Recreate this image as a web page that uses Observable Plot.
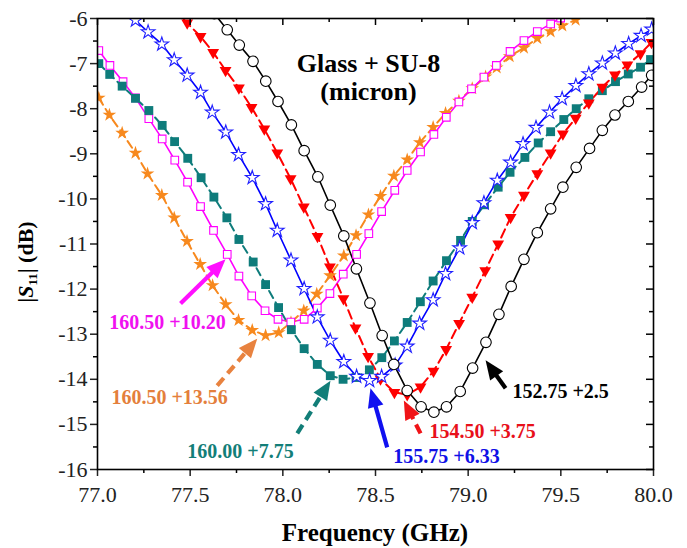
<!DOCTYPE html>
<html><head><meta charset="utf-8">
<script src="https://cdn.jsdelivr.net/npm/d3@7"></script>
<script src="https://cdn.jsdelivr.net/npm/@observablehq/plot@0.6"></script>
<style>body{margin:0;background:#fff}#chart{width:687px;height:548px}</style>
</head><body><div id="chart"></div>
<script>
// ---- data (frequency in GHz, |S11| in dB) ----
const blackF = [77.630,77.700,77.765,77.839,77.908,77.974,78.046,78.115,78.189,78.256,78.329,78.397,78.470,78.536,78.599,78.671,78.746,78.815,78.883,78.957,79.024,79.096,79.166,79.232,79.301,79.373,79.445,79.511,79.583,79.655,79.724,79.792,79.864,79.936,79.990];
const blackS = [-5.89,-6.25,-6.59,-6.95,-7.39,-7.84,-8.36,-8.93,-9.51,-10.14,-10.82,-11.55,-12.31,-13.03,-13.67,-14.25,-14.61,-14.73,-14.61,-14.27,-13.75,-13.18,-12.56,-11.94,-11.34,-10.75,-10.22,-9.74,-9.30,-8.88,-8.48,-8.14,-7.84,-7.52,-7.26];
const redF = [77.412,77.484,77.556,77.624,77.691,77.763,77.831,77.900,77.970,78.042,78.113,78.187,78.254,78.327,78.392,78.460,78.527,78.602,78.671,78.743,78.813,78.881,78.951,79.022,79.092,79.162,79.229,79.301,79.373,79.445,79.511,79.580,79.651,79.724,79.792,79.859,79.930,79.989];
const redS = [-5.81,-6.10,-6.40,-6.75,-7.15,-7.54,-7.97,-8.45,-8.98,-9.55,-10.18,-10.83,-11.51,-12.21,-12.86,-13.49,-13.99,-14.29,-14.34,-14.17,-13.82,-13.34,-12.76,-12.18,-11.59,-11.00,-10.41,-9.92,-9.44,-8.98,-8.56,-8.21,-7.87,-7.52,-7.25,-7.03,-6.78,-6.53];
const blueF = [77.135,77.205,77.273,77.347,77.414,77.484,77.556,77.619,77.692,77.761,77.835,77.907,77.970,78.044,78.115,78.186,78.256,78.329,78.398,78.468,78.533,78.606,78.671,78.738,78.811,78.878,78.954,79.022,79.085,79.157,79.229,79.296,79.366,79.439,79.507,79.581,79.651,79.724,79.794,79.866,79.933,79.990];
const blueS = [-5.77,-6.04,-6.30,-6.57,-6.92,-7.26,-7.64,-8.08,-8.52,-9.02,-9.53,-10.11,-10.70,-11.36,-11.99,-12.62,-13.14,-13.61,-13.94,-14.03,-13.94,-13.69,-13.27,-12.76,-12.24,-11.66,-11.09,-10.53,-10.09,-9.59,-9.19,-8.78,-8.42,-8.08,-7.78,-7.49,-7.23,-6.99,-6.77,-6.56,-6.38,-6.24];
const tealF = [77.007,77.066,77.133,77.205,77.277,77.349,77.416,77.487,77.559,77.628,77.698,77.763,77.840,77.907,77.977,78.046,78.115,78.186,78.256,78.325,78.395,78.467,78.534,78.602,78.671,78.742,78.811,78.883,78.959,79.022,79.088,79.162,79.226,79.306,79.378,79.445,79.516,79.583,79.651,79.724,79.795,79.864,79.930,79.984];
const tealS = [-7.00,-7.24,-7.50,-7.77,-8.04,-8.37,-8.73,-9.10,-9.53,-9.96,-10.42,-10.90,-11.40,-11.90,-12.41,-12.90,-13.32,-13.67,-13.92,-14.00,-13.96,-13.79,-13.52,-13.15,-12.74,-12.28,-11.82,-11.37,-10.92,-10.50,-10.13,-9.74,-9.41,-9.08,-8.76,-8.51,-8.24,-8.00,-7.78,-7.60,-7.40,-7.23,-7.08,-6.91];
const magF = [77.007,77.067,77.138,77.205,77.277,77.349,77.417,77.486,77.556,77.626,77.700,77.763,77.832,77.904,77.974,78.043,78.115,78.186,78.254,78.326,78.398,78.464,78.533,78.604,78.671,78.743,78.815,78.882,78.950,79.018,79.085,79.152,79.226,79.301,79.373,79.445,79.499];
const magS = [-6.71,-7.04,-7.40,-7.76,-8.22,-8.67,-9.14,-9.63,-10.17,-10.70,-11.23,-11.71,-12.15,-12.48,-12.67,-12.73,-12.67,-12.42,-12.10,-11.67,-11.23,-10.77,-10.28,-9.81,-9.37,-8.96,-8.57,-8.19,-7.85,-7.56,-7.30,-7.04,-6.73,-6.49,-6.29,-6.12,-5.99];
const orgF = [77.007,77.064,77.133,77.205,77.270,77.347,77.414,77.483,77.554,77.621,77.692,77.761,77.835,77.907,77.978,78.044,78.113,78.183,78.255,78.329,78.395,78.462,78.527,78.599,78.671,78.739,78.811,78.878,78.950,79.022,79.094,79.154,79.224,79.301,79.373,79.445,79.508,79.580];
const orgS = [-7.76,-8.14,-8.54,-8.98,-9.44,-9.92,-10.42,-10.94,-11.45,-11.92,-12.34,-12.69,-12.91,-13.03,-12.96,-12.74,-12.48,-12.11,-11.70,-11.26,-10.81,-10.35,-9.94,-9.49,-9.13,-8.75,-8.41,-8.10,-7.83,-7.55,-7.29,-7.09,-6.84,-6.65,-6.44,-6.29,-6.16,-6.03];

// annotation labels
const labelText = ["152.75 +2.5","154.50 +3.75","155.75 +6.33","160.00 +7.75","160.50 +10.20","160.50 +13.56"];
const labelF = [79.499,79.078,78.883,77.772,77.378,77.389];
const labelS = [-14.27,-15.16,-15.71,-15.60,-12.74,-14.40];
// arrows: tail -> tip
const arrowTailF = [79.202,78.743,78.563,78.078,77.448,77.646];
const arrowTailS = [-14.20,-15.20,-15.51,-15.20,-12.32,-14.14];
const arrowTipF = [79.094,78.653,78.473,78.257,77.691,77.862];
const arrowTipS = [-13.58,-14.47,-14.20,-14.03,-11.34,-13.10];

const xMajor = [77.0,77.5,78.0,78.5,79.0,79.5,80.0];
const xMinor = [77.25,77.75,78.25,78.75,79.25,79.75];
const yMajor = [-16,-15,-14,-13,-12,-11,-10,-9,-8,-7,-6];
const yMinor = [-15.5,-14.5,-13.5,-12.5,-11.5,-10.5,-9.5,-8.5,-7.5,-6.5];

// ---- layout ----
const W = 687, H = 548, mL = 97, mR = 34, mT = 18, mB = 79;
const plotW = W - mL - mR, plotH = H - mT - mB;
const FONT = "Liberation Serif, DejaVu Serif, Times New Roman, serif";

const triDown = {draw(ctx, size) {
  const h = Math.sqrt(size / (3 * Math.sqrt(3)));
  ctx.moveTo(0, 2 * h); ctx.lineTo(-Math.sqrt(3) * h, -h); ctx.lineTo(Math.sqrt(3) * h, -h); ctx.closePath();
}};
const HL = 19, HW = 16;
const arrowHead = {draw(ctx) {
  ctx.moveTo(0, 0); ctx.lineTo(-HL, -HW / 2); ctx.lineTo(-HL, HW / 2); ctx.closePath();
}};

const series = [
  {f: orgF, s: orgS, color: "#F7891E", dash: "8,5", width: 2, symbol: "star", r: 4.3, fill: "#F7891E", stroke: "none"},
  {f: magF, s: magS, color: "#FF00FF", dash: null, width: 1.6, symbol: "square", r: 4.3, fill: "#fff", stroke: "#FF00FF"},
  {f: tealF, s: tealS, color: "#0E7C7B", dash: "8,5", width: 2, symbol: "square", r: 5.0, fill: "#0E7C7B", stroke: "none"},
  {f: redF, s: redS, color: "#FF0000", dash: "9,5", width: 2, symbol: triDown, r: 4.4, fill: "#FF0000", stroke: "none"},
  {f: blueF, s: blueS, color: "#0000FF", dash: null, width: 1.6, symbol: "star", r: 4.3, fill: "#fff", stroke: "#2020FF"},
  {f: blackF, s: blackS, color: "#000000", dash: null, width: 1.6, symbol: "circle", r: 5.3, fill: "#fff", stroke: "#000"}
];
const labelColors = ["#000000","#E8101A","#1010E6","#127E78","#F010F0","#E47F3C"];
const arrowColors = ["#000000","#F01418","#1010F0","#127E78","#FF10FF","#E8823F"];
const arrowDash = [null,"10,6",null,"10,6",null,"10,6"];

const sx = Plot.scale({x: {domain: [77, 80], range: [mL, W - mR]}});
const sy = Plot.scale({y: {domain: [-16, -6], range: [H - mB, mT]}});

const arrows = arrowTipF.map((tf, i) => {
  const x1 = sx.apply(arrowTailF[i]), y1 = sy.apply(arrowTailS[i]);
  const x2 = sx.apply(tf), y2 = sy.apply(arrowTipS[i]);
  const len = Math.hypot(x2 - x1, y2 - y1);
  const ux = (x2 - x1) / len, uy = (y2 - y1) / len;
  return {
    f1: arrowTailF[i], s1: arrowTailS[i],
    f2: sx.invert(x2 - ux * HL * 0.7), s2: sy.invert(y2 - uy * HL * 0.7),
    tf, ts: arrowTipS[i],
    angle: Math.atan2(y2 - y1, x2 - x1) * 180 / Math.PI,
    color: arrowColors[i], dash: arrowDash[i]
  };
});

const marks = [];
for (const sr of series) {
  const rows = sr.f.map((f, i) => ({f, s: sr.s[i]}));
  marks.push(Plot.line(rows, {x: "f", y: "s", stroke: sr.color, strokeWidth: sr.width, strokeDasharray: sr.dash, clip: true}));
}
for (const sr of series) {
  const rows = sr.f.map((f, i) => ({f, s: sr.s[i]}));
  marks.push(Plot.dot(rows, {x: "f", y: "s", symbol: sr.symbol, r: sr.r, fill: sr.fill, stroke: sr.stroke, strokeWidth: 1.1, clip: true}));
}
arrows.forEach(a => {
  marks.push(Plot.link([a], {x1: "f1", y1: "s1", x2: "f2", y2: "s2", stroke: a.color, strokeWidth: 4.2, strokeDasharray: a.dash}));
  marks.push(Plot.dot([a], {x: "tf", y: "ts", symbol: arrowHead, rotate: "angle", fill: a.color, stroke: "none", r: 5}));
});
labelText.forEach((t, i) => {
  marks.push(Plot.text([t], {x: () => labelF[i], y: () => labelS[i], text: d => d, fill: labelColors[i], fontSize: 20, fontWeight: "bold", fontFamily: FONT}));
});
marks.push(Plot.text(["Glass + SU-8", "(micron)"], {x: () => 78.462, y: (d, i) => i === 0 ? -7.0 : -7.62, text: d => d, fontSize: 26, fontWeight: "bold", fontFamily: FONT, fill: "#000"}));

// axes
marks.push(Plot.axisX({ticks: xMajor, tickSize: 7, tickPadding: 10, tickFormat: d3.format(".1f"), fontSize: 22, fontFamily: FONT, strokeWidth: 1.5, label: null, color: "#222"}));
marks.push(Plot.axisX({ticks: xMinor, tickSize: 4, tickFormat: () => "", strokeWidth: 1.5, label: null}));
marks.push(Plot.axisY({ticks: yMajor, tickSize: 7, tickPadding: 3, tickFormat: d => String(d), fontSize: 22, fontFamily: FONT, strokeWidth: 1.5, label: null, color: "#222"}));
marks.push(Plot.axisY({ticks: yMinor, tickSize: 4, tickFormat: () => "", strokeWidth: 1.5, label: null}));
// mirrored inward ticks on top and right
marks.push(Plot.tickX(xMajor, {x: d => d, insetBottom: plotH - 7, stroke: "#000", strokeWidth: 1.5}));
marks.push(Plot.tickX(xMinor, {x: d => d, insetBottom: plotH - 4, stroke: "#000", strokeWidth: 1.5}));
marks.push(Plot.tickY(yMajor, {y: d => d, insetLeft: plotW - 7, stroke: "#000", strokeWidth: 1.5}));
marks.push(Plot.tickY(yMinor, {y: d => d, insetLeft: plotW - 4, stroke: "#000", strokeWidth: 1.5}));
marks.push(Plot.frame({stroke: "#000", strokeWidth: 1.6}));

const chart = Plot.plot({
  width: W, height: H,
  marginLeft: mL, marginRight: mR, marginTop: mT, marginBottom: mB,
  x: {domain: [77, 80]},
  y: {domain: [-16, -6]},
  style: {fontFamily: FONT, background: "#fff"},
  marks
});

// axis titles
const svg = d3.select(chart);
svg.append("text")
  .attr("x", mL + plotW / 2).attr("y", 541)
  .attr("text-anchor", "middle")
  .style("font-family", FONT).attr("font-size", 25).attr("font-weight", "bold").attr("fill", "#000")
  .text("Frequency (GHz)");
const yt = svg.append("text")
  .attr("transform", "translate(33,262) rotate(-90)")
  .attr("text-anchor", "middle")
  .style("font-family", FONT).attr("font-size", 22).attr("font-weight", "bold").attr("fill", "#000");
yt.append("tspan").text("|");
yt.append("tspan").attr("font-style", "italic").text("S");
yt.append("tspan").attr("font-size", 13).attr("dy", 4).text("11");
yt.append("tspan").attr("dy", -4).text("| (dB)");

document.getElementById("chart").appendChild(chart);
</script>
</body></html>
